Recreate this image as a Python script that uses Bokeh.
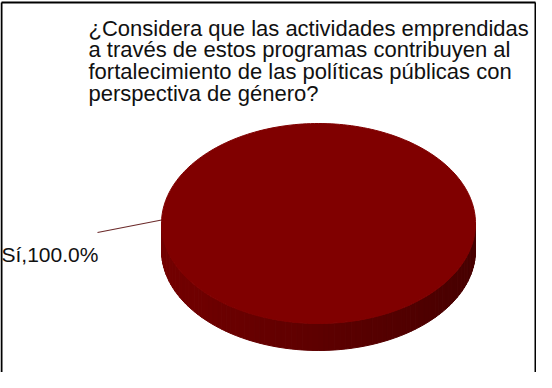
import numpy as np
from bokeh.plotting import figure
from bokeh.models import Range1d
from bokeh.core.properties import value
from bokeh.embed import file_html
from bokeh.resources import INLINE

# ---- data ----
categories = ["Sí"]
values = [100.0]
title_lines = [
    "¿Considera que las actividades emprendidas",
    "a través de estos programas contribuyen al",
    "fortalecimiento de las políticas públicas con",
    "perspectiva de género?",
]
slice_colors = ["#800000"]

# ---- layout: data space = page pixels (canvas sits at 8..544, 8..380) ----
X0, Y0, CW, CH = 8, 8, 536, 372
CX, CY, RX, RY, DEPTH = 326.0, 231.0, 157.0, 100.0, 27.0
START_DEG = -2.0  # rotation so the single slice's label sits on the left

p = figure(width=CW, height=CH, x_range=Range1d(X0, X0 + CW), y_range=Range1d(Y0 + CH, Y0),
           output_backend="svg", toolbar_location=None, min_border=0,
           background_fill_color="white", border_fill_color="white")
p.axis.visible = False
p.grid.visible = False
p.outline_line_color = None

def ept(a, dy=0.0):
    return CX + RX * np.cos(a), CY - RY * np.sin(a) + dy

total = float(sum(values))
fracs = [v / total for v in values]

# side of the cylinder (front half, shaded strips)
n = 90
angs = np.linspace(np.pi, 2 * np.pi, n + 1)
xs_side, ys_side, cols = [], [], []
for a1, a2 in zip(angs[:-1], angs[1:]):
    x1, y1 = ept(a1)
    x2, y2 = ept(a2)
    x3, y3 = ept(a2, DEPTH)
    x4, y4 = ept(a1, DEPTH)
    xs_side.append([x1, x2, x3, x4])
    ys_side.append([y1, y2, y3, y4])
    am = 0.5 * (a1 + a2)
    r = int(0x5e - 0x16 * np.cos(am))
    cols.append("#%02x0000" % r)
p.patches(xs_side, ys_side, fill_color=cols, line_color=cols, line_width=1)

# top faces of slices
start = np.deg2rad(START_DEG)
mids = []
for f, c in zip(fracs, slice_colors):
    end = start + 2 * np.pi * f
    arc = np.linspace(start, end, 240)
    px, py = ept(arc)
    if f < 0.999:
        px = np.concatenate([[CX], px]); py = np.concatenate([[CY], py])
    p.patch(list(px), list(py), fill_color=c, line_color=c, line_width=1)
    mids.append(0.5 * (start + end))
    start = end

# labels with leader lines
LABEL_X, LABEL_Y = 9, 262
LEAD_X, LEAD_Y = 105, 240
for cat, v, m in zip(categories, values, mids):
    ax, ay = ept(m)  # anchor on the rim
    p.line([LEAD_X, ax], [LEAD_Y, ay], line_color="#6b2a2a", line_width=1.2)
    p.text(x=[LABEL_X], y=[LABEL_Y], text=[f"{cat},{v / total * 100:.1f}%"],
           text_font=value("Liberation Sans"), text_font_size="21px",
           text_baseline="alphabetic", text_align="left", text_color="#111111")

# title
TITLE_X, TITLE_Y0, TITLE_DY = 96, 35.7, 21.6
p.text(x=[TITLE_X] * len(title_lines),
       y=[TITLE_Y0 + i * TITLE_DY for i in range(len(title_lines))],
       text=title_lines, text_font=value("Liberation Sans"),
       text_font_size="22px", text_baseline="alphabetic", text_align="left",
       text_color="#111111")

# frame (left, top, right)
p.multi_line([[9, 9], [9, 543], [543, 543]], [[Y0 + CH + 5, 10], [10, 10], [10, Y0 + CH + 5]],
             line_color="black", line_width=2)

open("out.html", "w").write(file_html(p, INLINE))
